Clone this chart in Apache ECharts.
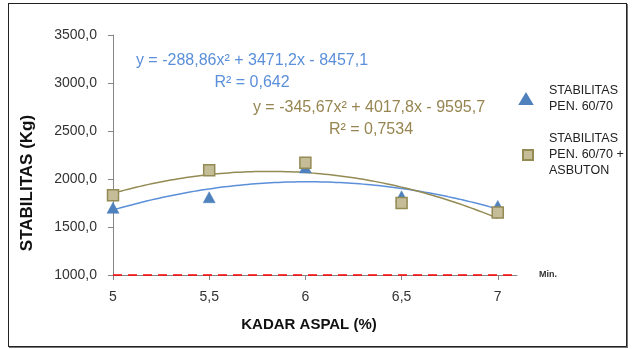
<!DOCTYPE html>
<html>
<head>
<meta charset="utf-8">
<script src="https://cdn.jsdelivr.net/npm/echarts@6/dist/echarts.min.js"></script>
<style>
html,body{margin:0;padding:0;background:#fff;}
#wrap{position:relative;width:632px;height:349px;}
#chart{position:absolute;left:0;top:0;width:632px;height:349px;}
#frame{position:absolute;left:8px;top:3px;width:617px;height:342px;border:1px solid #222;box-shadow:1px 1px 0 #777;pointer-events:none;}
</style>
</head>
<body>
<div id="wrap"><div id="chart"></div><div id="frame"></div></div>
<script>
// ---- data ----
const kadarAspal = [5, 5.5, 6, 6.5, 7];
const stabPen = [1700, 1810, 2120, 1820, 1720];
const stabAsbuton = [1830, 2090, 2170, 1750, 1650];
const xTickLabels = [5, 5.5, 6, 6.5, 7];
const yTicks = [1000, 1500, 2000, 2500, 3000, 3500];
const minValue = 1000;
// trendline coefficients as displayed on the chart (a x^2 + b x + c)
const trendPenCoef = [-288.86, 3471.2, -8457.1];
const trendAsbCoef = [-345.67, 4017.8, -9595.7];
const seriesNames = ['STABILITAS PEN. 60/70', 'STABILITAS PEN. 60/70 + ASBUTON'];

function trend(coef) {
  const pts = [];
  for (let i = 0; i <= 100; i++) {
    const x = kadarAspal[0] + (kadarAspal[kadarAspal.length - 1] - kadarAspal[0]) * i / 100;
    pts.push([x, coef[0] * x * x + coef[1] * x + coef[2]]);
  }
  return pts;
}
const fmtComma = v => String(v).replace('.', ',');
const FONT = "'Liberation Sans', Arial, sans-serif";
const BLUE = '#4F81BD', BLUE_LINE = '#5B8FD9', TAN_TXT = '#968550';
const TAN_FILL = '#C4BD97', TAN_EDGE = '#948A54';

const chart = echarts.init(document.getElementById('chart'), null, {renderer: 'canvas'});
chart.setOption({
  animation: false,
  textStyle: {fontFamily: FONT},
  grid: {left: 113, right: 115, top: 35, bottom: 74, containLabel: false},
  xAxis: {
    type: 'value', min: 5, max: 7.1, interval: 0.5,
    name: 'KADAR ASPAL (%)', nameLocation: 'middle', nameGap: 42,
    nameTextStyle: {fontFamily: FONT, fontWeight: 'bold', fontSize: 15, color: '#111', padding: [0, 12, 0, 0]},
    axisLine: {show: true, lineStyle: {color: '#868686', width: 1}},
    axisTick: {show: true, length: 5, lineStyle: {color: '#868686'}, customValues: xTickLabels},
    axisLabel: {fontSize: 14, color: '#333', margin: 15, customValues: xTickLabels, formatter: fmtComma},
    splitLine: {show: false}
  },
  yAxis: {
    type: 'value', min: yTicks[0], max: yTicks[yTicks.length - 1], interval: 500,
    name: 'STABILITAS (Kg)', nameLocation: 'middle', nameGap: 77, nameRotate: 90,
    nameTextStyle: {fontFamily: FONT, fontWeight: 'bold', fontSize: 17, color: '#111', padding: [0, 56, 0, 0]},
    axisLine: {show: true, lineStyle: {color: '#868686', width: 1}},
    axisTick: {show: true, length: 5, lineStyle: {color: '#868686'}},
    axisLabel: {fontSize: 14, color: '#333', margin: 16, formatter: v => v.toFixed(1).replace('.', ',')},
    splitLine: {show: false}
  },
  legend: [
    {
      data: [{name: seriesNames[0], icon: 'triangle'}],
      left: 519, top: 83, padding: 0, orient: 'vertical',
      itemWidth: 12, itemHeight: 10,
      formatter: () => 'STABILITAS\nPEN. 60/70',
      textStyle: {fontFamily: FONT, fontSize: 12.5, lineHeight: 16, color: '#222', padding: [0, 0, 0, 12]}
    },
    {
      data: [{name: seriesNames[1], icon: 'rect'}],
      left: 522, top: 118, padding: 0, orient: 'vertical',
      itemWidth: 10, itemHeight: 10,
      formatter: () => 'STABILITAS\nPEN. 60/70 +\nASBUTON',
      textStyle: {fontFamily: FONT, fontSize: 12.5, lineHeight: 16, color: '#222', padding: [26, 0, 0, 11]}
    }
  ],
  series: [
    {
      name: 'trendPen', type: 'line', data: trend(trendPenCoef), showSymbol: false, symbol: 'none',
      lineStyle: {color: BLUE_LINE, width: 1.5}, silent: true, z: 1,
      markLine: {
        silent: true, symbol: ['none', 'none'],
        lineStyle: {color: '#FF0000', type: [9, 6], width: 1.5},
        label: {show: true, position: 'end', distance: 22, formatter: 'Min.', fontSize: 9, fontWeight: 'bold', color: '#333', fontFamily: FONT},
        data: [{yAxis: minValue}]
      }
    },
    {
      name: 'trendAsb', type: 'line', data: trend(trendAsbCoef), showSymbol: false, symbol: 'none',
      lineStyle: {color: TAN_EDGE, width: 1.5}, silent: true, z: 1
    },
    {
      name: seriesNames[0], type: 'scatter', symbol: 'triangle', symbolSize: [12, 11],
      data: kadarAspal.map((x, i) => [x, stabPen[i]]),
      itemStyle: {color: BLUE, borderColor: BLUE, borderWidth: 0.5, opacity: 1}, z: 3
    },
    {
      name: seriesNames[1], type: 'scatter', symbol: 'rect', symbolSize: 11,
      data: kadarAspal.map((x, i) => [x, stabAsbuton[i]]),
      itemStyle: {color: TAN_FILL, borderColor: TAN_EDGE, borderWidth: 1.5, opacity: 1}, z: 4
    }
  ],
  graphic: [
    {type: 'text', x: 252, y: 61, style: {text: 'y = -288,86x² + 3471,2x - 8457,1', fontFamily: FONT, fontSize: 16, fill: BLUE_LINE, align: 'center', verticalAlign: 'middle'}},
    {type: 'text', x: 252, y: 83, style: {text: 'R² = 0,642', fontFamily: FONT, fontSize: 16, fill: BLUE_LINE, align: 'center', verticalAlign: 'middle'}},
    {type: 'text', x: 369, y: 108, style: {text: 'y = -345,67x² + 4017,8x - 9595,7', fontFamily: FONT, fontSize: 16, fill: TAN_TXT, align: 'center', verticalAlign: 'middle'}},
    {type: 'text', x: 371, y: 130, style: {text: 'R² = 0,7534', fontFamily: FONT, fontSize: 16, fill: TAN_TXT, align: 'center', verticalAlign: 'middle'}}
  ]
});
</script>
</body>
</html>
